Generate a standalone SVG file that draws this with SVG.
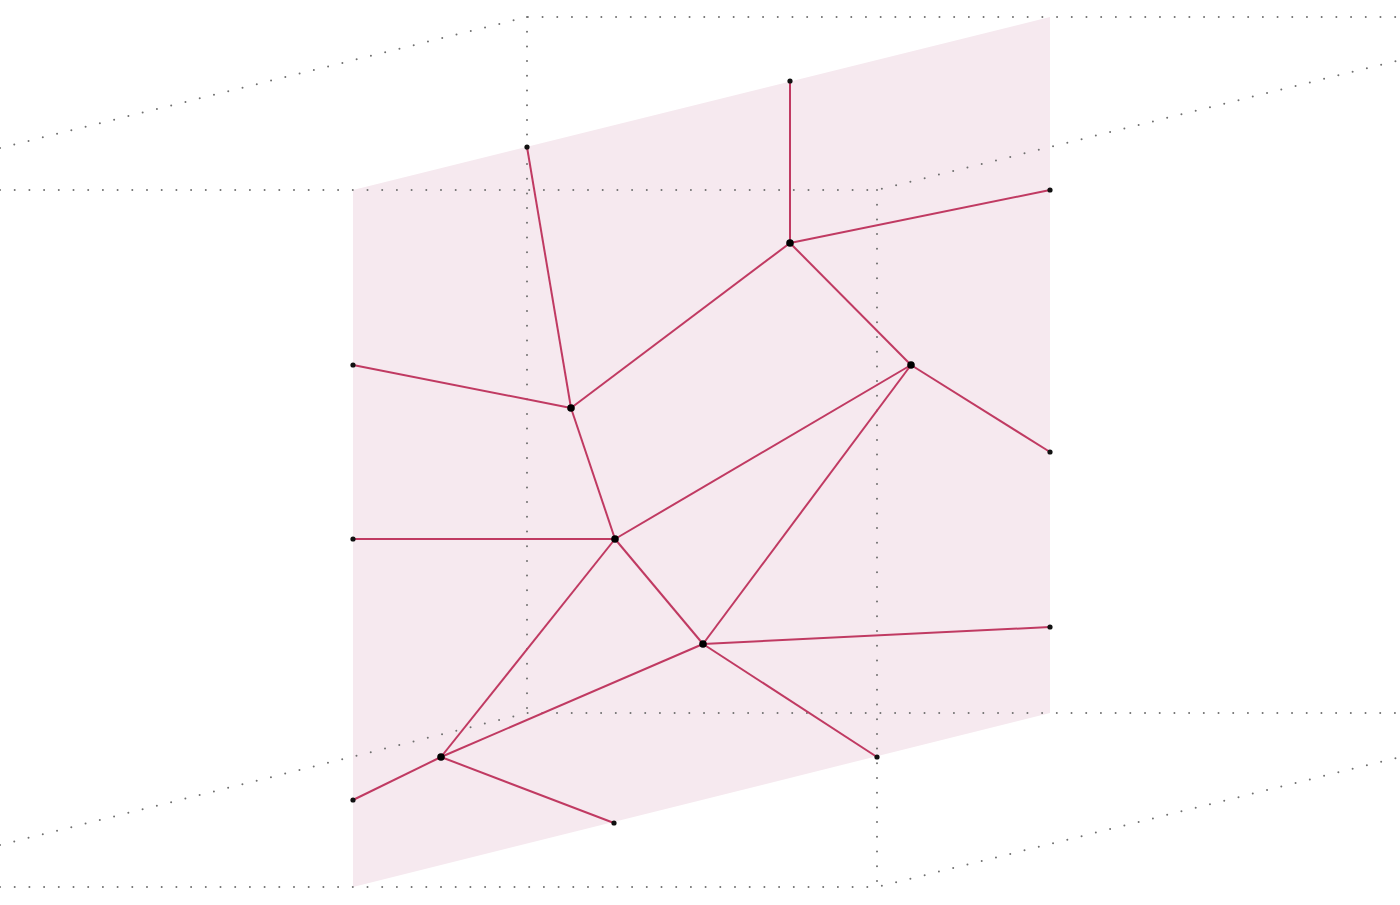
<svg xmlns="http://www.w3.org/2000/svg" width="1400" height="905" viewBox="0 0 1400 905">
<style>
.grid{fill:none;stroke:#707070;stroke-width:2;stroke-linecap:round;stroke-dasharray:0 14.7}
.edge{stroke:#c03a62;stroke-width:2;fill:none}
.b{fill:#111}
.v{fill:#000}
</style>
<rect width="1400" height="905" fill="#fff"/>
<polygon id="plane" points="353,190 1050,17 1050,713 353,887" fill="#f6e9ef"/>
<g id="grid">
<polyline class="grid" points="0,148 527,17 1400,17"/>
<polyline class="grid" points="0,190 877,190 1400,60"/>
<line class="grid" x1="527" y1="17" x2="527" y2="713"/>
<line class="grid" x1="877" y1="190" x2="877" y2="887"/>
<polyline class="grid" points="0,845 527,713 1400,713"/>
<polyline class="grid" points="0,887 877,887 1400,757"/>
</g>
<g id="connectors">
<line class="edge" x1="790" y1="81" x2="790" y2="243"/>
<line class="edge" x1="790" y1="243" x2="1050" y2="190"/>
<line class="edge" x1="790" y1="243" x2="571" y2="408"/>
<line class="edge" x1="790" y1="243" x2="911" y2="365"/>
<line class="edge" x1="527" y1="147" x2="571" y2="408"/>
<line class="edge" x1="353" y1="365" x2="571" y2="408"/>
<line class="edge" x1="571" y1="408" x2="615" y2="539"/>
<line class="edge" x1="615" y1="539" x2="911" y2="365"/>
<line class="edge" x1="911" y1="365" x2="1050" y2="452"/>
<line class="edge" x1="911" y1="365" x2="703" y2="644"/>
<line class="edge" x1="353" y1="539" x2="615" y2="539"/>
<line class="edge" x1="615" y1="539" x2="703" y2="644"/>
<line class="edge" x1="615" y1="539" x2="441" y2="757"/>
<line class="edge" x1="703" y1="644" x2="1050" y2="627"/>
<line class="edge" x1="703" y1="644" x2="877" y2="757"/>
<line class="edge" x1="703" y1="644" x2="441" y2="757"/>
<line class="edge" x1="441" y1="757" x2="353" y2="800"/>
<line class="edge" x1="441" y1="757" x2="614" y2="823"/>
</g>
<g id="boundary-nodes">
<circle id="b1" class="b" cx="527" cy="147" r="2.6"/>
<circle id="b2" class="b" cx="790" cy="81" r="2.6"/>
<circle id="b3" class="b" cx="1050" cy="190" r="2.6"/>
<circle id="b4" class="b" cx="1050" cy="452" r="2.6"/>
<circle id="b5" class="b" cx="1050" cy="627" r="2.6"/>
<circle id="b6" class="b" cx="877" cy="757" r="2.6"/>
<circle id="b7" class="b" cx="614" cy="823" r="2.6"/>
<circle id="b8" class="b" cx="353" cy="800" r="2.6"/>
<circle id="b9" class="b" cx="353" cy="539" r="2.6"/>
<circle id="b10" class="b" cx="353" cy="365" r="2.6"/>
</g>
<g id="vertices">
<circle id="v1" class="v" cx="790" cy="243" r="3.8"/>
<circle id="v2" class="v" cx="911" cy="365" r="3.8"/>
<circle id="v3" class="v" cx="571" cy="408" r="3.8"/>
<circle id="v4" class="v" cx="615" cy="539" r="3.8"/>
<circle id="v5" class="v" cx="703" cy="644" r="3.8"/>
<circle id="v6" class="v" cx="441" cy="757" r="3.8"/>
</g>
</svg>
